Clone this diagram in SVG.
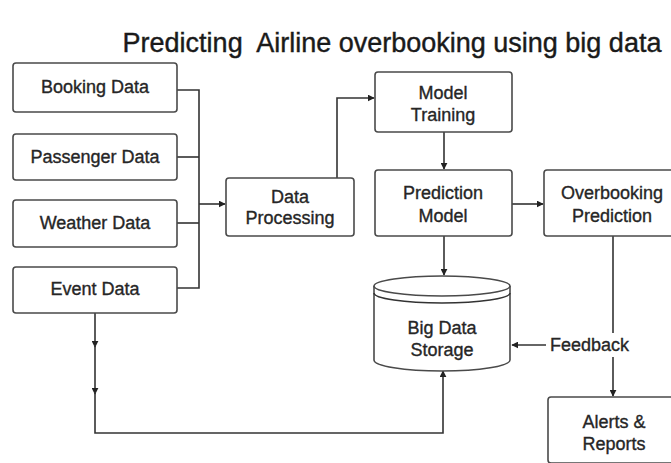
<svg xmlns="http://www.w3.org/2000/svg" width="671" height="463" viewBox="0 0 671 463">
<defs>
<style>
.box{fill:#fff;stroke:#4a4a4a;stroke-width:1.6}
.t{font-family:"Liberation Sans",Arial,sans-serif;font-size:18px;fill:#262626;stroke:#262626;stroke-width:0.35;text-anchor:middle}
.ln{fill:none;stroke:#333;stroke-width:1.6}
.title{font-family:"Liberation Sans",Arial,sans-serif;font-size:27px;fill:#1a1a1a;stroke:#1a1a1a;stroke-width:0.4;text-anchor:middle}
</style>
<marker id="ar" viewBox="0 0 10 10" refX="9" refY="5" markerWidth="7" markerHeight="7" orient="auto" markerUnits="userSpaceOnUse">
<path d="M0,0 L10,5 L0,10 Z" fill="#222"/>
</marker>
</defs>
<rect width="671" height="463" fill="#fff"/>
<text class="title" x="392" y="52" xml:space="preserve">Predicting  Airline overbooking using big data</text>

<g id="connectors">
<path class="ln" d="M177,90 H199 V288 H177"/>
<path class="ln" d="M177,157 H199"/>
<path class="ln" d="M177,223 H199"/>
<path class="ln" d="M199,204 H225" marker-end="url(#ar)"/>
<path class="ln" d="M337,178 V98 H374" marker-end="url(#ar)"/>
<path class="ln" d="M444,132 V169" marker-end="url(#ar)"/>
<path class="ln" d="M512,204 H543" marker-end="url(#ar)"/>
<path class="ln" d="M444,236 V275" marker-end="url(#ar)"/>
<path class="ln" d="M613,236 V333"/>
<path class="ln" d="M613,357 V396" marker-end="url(#ar)"/>
<path class="ln" d="M546,345 H512" marker-end="url(#ar)"/>
<path class="ln" d="M95,313 V347" marker-end="url(#ar)"/>
<path class="ln" d="M95,345 V394" marker-end="url(#ar)"/>
<path class="ln" d="M95,392 V433 H443 V371" marker-end="url(#ar)"/>
<text class="t" x="550" y="351" style="text-anchor:start">Feedback</text>
</g>

<g id="booking"><rect class="box" x="13" y="63" width="164" height="49" rx="3"/><text class="t" x="95" y="93">Booking Data</text></g>
<g id="passenger"><rect class="box" x="13" y="134" width="164" height="46" rx="3"/><text class="t" x="95" y="163">Passenger Data</text></g>
<g id="weather"><rect class="box" x="13" y="200" width="164" height="47" rx="3"/><text class="t" x="95" y="229">Weather Data</text></g>
<g id="event"><rect class="box" x="13" y="267" width="164" height="46" rx="3"/><text class="t" x="95" y="295">Event Data</text></g>
<g id="processing"><rect class="box" x="226" y="178" width="128" height="58" rx="3"/><text class="t" x="290" y="203">Data</text><text class="t" x="290" y="224">Processing</text></g>
<g id="training"><rect class="box" x="375" y="72" width="137" height="60" rx="3"/><text class="t" x="443" y="99">Model</text><text class="t" x="443" y="121">Training</text></g>
<g id="prediction"><rect class="box" x="375" y="170" width="137" height="66" rx="3"/><text class="t" x="443" y="199">Prediction</text><text class="t" x="443" y="222">Model</text></g>
<g id="overbooking"><rect class="box" x="544" y="170" width="130" height="66" rx="3"/><text class="t" x="612" y="199">Overbooking</text><text class="t" x="612" y="222">Prediction</text></g>
<g id="storage">
<path class="box" d="M374,286 V360 A68,11 0 0 0 510,360 V286"/>
<ellipse class="box" cx="442" cy="286" rx="68" ry="10"/>
<path class="ln" d="M374,293 A68,10 0 0 0 510,293"/>
<text class="t" x="442" y="334">Big Data</text><text class="t" x="442" y="356">Storage</text>
</g>
<g id="alerts"><rect class="box" x="548" y="397" width="126" height="66" rx="3"/><text class="t" x="614" y="428">Alerts &amp;</text><text class="t" x="614" y="450">Reports</text></g>
</svg>
